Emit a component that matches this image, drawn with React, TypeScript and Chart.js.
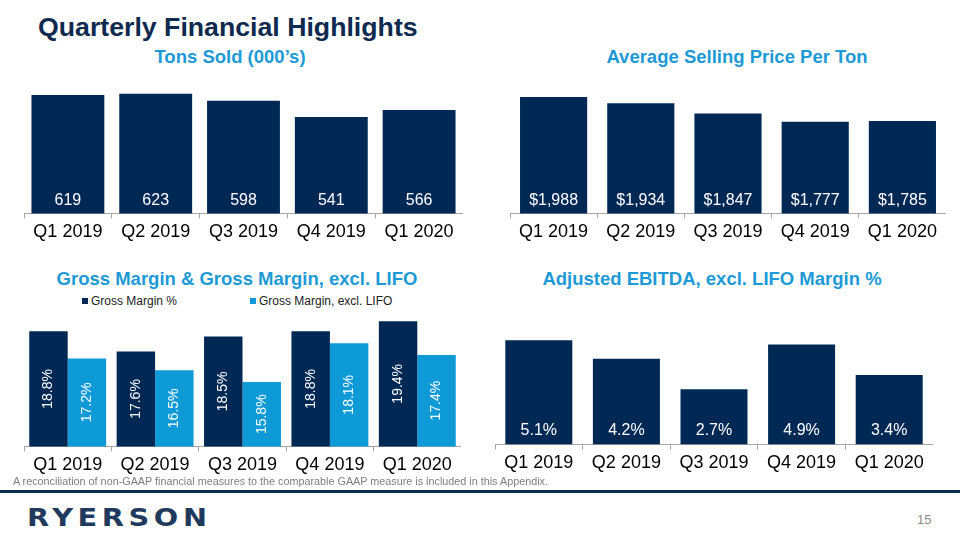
import React, { useEffect, useRef } from "react";
import { Chart, registerables } from "chart.js";

Chart.register(...registerables);

// ---------- DATA ----------
const quarters = ["Q1 2019", "Q2 2019", "Q3 2019", "Q4 2019", "Q1 2020"];
const tonsSold = [619, 623, 598, 541, 566];
const avgSellingPrice = [1988, 1934, 1847, 1777, 1785];
const grossMargin = [18.8, 17.6, 18.5, 18.8, 19.4];
const grossMarginExLifo = [17.2, 16.5, 15.8, 18.1, 17.4];
const ebitdaMargin = [5.1, 4.2, 2.7, 4.9, 3.4];
const grossSeriesNames = ["Gross Margin %", "Gross Margin, excl. LIFO"];

const NAVY = "#002855";
const LIGHT = "#0E9AD7";
const TITLE_BLUE = "#1D9AD6";
const FONT = "'Liberation Sans', Arial, sans-serif";

const valueLabelPlugin = {
  id: "valueLabels",
  afterDatasetsDraw(chart: any, _args: any, opts: any) {
    const ctx = chart.ctx;
    const bottom = chart.chartArea.bottom;
    chart.data.datasets.forEach((ds: any, di: number) => {
      const meta = chart.getDatasetMeta(di);
      meta.data.forEach((bar: any, i: number) => {
        const v = ds.data[i] as number;
        const num = v.toLocaleString("en-US", {
          minimumFractionDigits: opts.decimals,
          maximumFractionDigits: opts.decimals,
        });
        const text = (opts.prefix || "") + num + (opts.suffix || "");
        const { x, y, base } = bar.getProps(["x", "y", "base"], true);
        const b = Math.min(base, bottom);
        ctx.save();
        ctx.fillStyle = "#ffffff";
        ctx.font = `${opts.size}px ${FONT}`;
        ctx.textAlign = "center";
        ctx.textBaseline = "middle";
        if (opts.rotated) {
          ctx.translate(x, (y + b) / 2);
          ctx.rotate(-Math.PI / 2);
          ctx.fillText(text, 0, 0);
        } else {
          ctx.fillText(text, x, b - opts.offset);
        }
        ctx.restore();
      });
    });
  },
};

type BarProps = {
  left: number;
  top: number;
  width: number;
  height: number;
  datasets: { label: string; data: number[]; color: string }[];
  min: number;
  max: number;
  catPct: number;
  labels: { prefix?: string; suffix?: string; decimals: number; rotated?: boolean; offset?: number; size: number };
};

function BarChart(p: BarProps) {
  const ref = useRef<HTMLCanvasElement>(null);
  useEffect(() => {
    if (!ref.current) return;
    const chart = new Chart(ref.current, {
      type: "bar",
      data: {
        labels: quarters,
        datasets: p.datasets.map((d) => ({
          label: d.label,
          data: d.data,
          backgroundColor: d.color,
          borderWidth: 0,
          categoryPercentage: p.catPct,
          barPercentage: 1,
        })),
      },
      options: {
        responsive: false,
        animation: false,
        layout: { padding: 0 },
        plugins: {
          legend: { display: false },
          tooltip: { enabled: false },
          title: { display: false },
          valueLabels: p.labels,
        } as any,
        scales: {
          x: {
            offset: true,
            border: { display: true, color: "#A6A6A6", width: 1 },
            grid: {
              display: true,
              offset: true,
              drawOnChartArea: false,
              drawTicks: true,
              tickLength: 5,
              color: "#A6A6A6",
            },
            ticks: {
              color: "#000000",
              font: { family: FONT, size: 18 },
              padding: 3,
              maxRotation: 0,
              autoSkip: false,
            },
          },
          y: { display: false, min: p.min, max: p.max },
        },
      },
      plugins: [valueLabelPlugin],
    });
    return () => chart.destroy();
  }, []);
  return (
    <canvas
      ref={ref}
      width={p.width}
      height={p.height}
      style={{ position: "absolute", left: p.left, top: p.top, width: p.width, height: p.height }}
    />
  );
}

function Title({ text, cx, cy }: { text: string; cx: number; cy: number }) {
  return (
    <div
      style={{
        position: "absolute",
        left: cx - 250,
        width: 500,
        top: cy - 11,
        lineHeight: "22px",
        textAlign: "center",
        fontFamily: FONT,
        fontWeight: "bold",
        fontSize: 18.5,
        color: TITLE_BLUE,
        whiteSpace: "nowrap",
      }}
    >
      {text}
    </div>
  );
}

function LegendItem({ x, cy, color, text }: { x: number; cy: number; color: string; text: string }) {
  return (
    <>
      <div style={{ position: "absolute", left: x, top: cy - 3, width: 6, height: 6, background: color }} />
      <div
        style={{
          position: "absolute",
          left: x + 9,
          top: cy - 8,
          lineHeight: "16px",
          fontFamily: FONT,
          fontSize: 12,
          color: "#222",
          whiteSpace: "nowrap",
        }}
      >
        {text}
      </div>
    </>
  );
}

export default function App() {
  return (
    <div
      style={{
        position: "absolute",
        left: 0,
        top: 0,
        width: 960,
        height: 540,
        background: "#ffffff",
        overflow: "hidden",
        fontFamily: FONT,
      }}
    >
      <div
        style={{
          position: "absolute",
          left: 38,
          top: 12,
          lineHeight: "30px",
          fontSize: 26.7,
          fontWeight: "bold",
          color: "#0E2A4E",
          whiteSpace: "nowrap",
        }}
      >
        Quarterly Financial Highlights
      </div>

      <Title text="Tons Sold (000’s)" cx={230} cy={57} />
      <Title text="Average Selling Price Per Ton" cx={737} cy={57} />
      <Title text="Gross Margin & Gross Margin, excl. LIFO" cx={237} cy={279} />
      <Title text="Adjusted EBITDA, excl. LIFO Margin %" cx={712} cy={279} />

      <LegendItem x={82} cy={301} color={NAVY} text={grossSeriesNames[0]} />
      <LegendItem x={250} cy={301} color={LIGHT} text={grossSeriesNames[1]} />

      <BarChart
        left={24}
        top={72}
        width={439}
        height={174}
        datasets={[{ label: "Tons Sold", data: tonsSold, color: NAVY }]}
        min={200}
        max={700}
        catPct={0.83}
        labels={{ decimals: 0, offset: 13, size: 16 }}
      />
      <BarChart
        left={510}
        top={72}
        width={436}
        height={174}
        datasets={[{ label: "Average Selling Price", data: avgSellingPrice, color: NAVY }]}
        min={1000}
        max={2200}
        catPct={0.77}
        labels={{ prefix: "$", decimals: 0, offset: 13, size: 16 }}
      />
      <BarChart
        left={24}
        top={311}
        width={437}
        height={168}
        datasets={[
          { label: grossSeriesNames[0], data: grossMargin, color: NAVY },
          { label: grossSeriesNames[1], data: grossMarginExLifo, color: LIGHT },
        ]}
        min={12}
        max={20}
        catPct={0.88}
        labels={{ suffix: "%", decimals: 1, rotated: true, size: 14 }}
      />
      <BarChart
        left={495}
        top={322}
        width={438}
        height={155}
        datasets={[{ label: "Adjusted EBITDA Margin", data: ebitdaMargin, color: NAVY }]}
        min={0}
        max={6}
        catPct={0.765}
        labels={{ suffix: "%", decimals: 1, offset: 14, size: 16 }}
      />

      <div
        style={{
          position: "absolute",
          left: 13,
          top: 475,
          lineHeight: "12px",
          fontSize: 10.8,
          color: "#7F7F7F",
          whiteSpace: "nowrap",
        }}
      >
        A reconciliation of non-GAAP financial measures to the comparable GAAP measure is included in this Appendix.
      </div>

      <div style={{ position: "absolute", left: 0, top: 490, width: 960, height: 3, background: "#0E2D4B" }} />

      <div
        style={{
          position: "absolute",
          left: 27,
          top: 505,
          lineHeight: "25px",
          fontFamily: "'DejaVu Sans', sans-serif",
          fontWeight: "bold",
          fontSize: 25,
          letterSpacing: "4px",
          color: "#1F3A5C",
          whiteSpace: "nowrap",
          transform: "scaleX(1.15)",
          transformOrigin: "0 0",
        }}
      >
        RYERSON
      </div>

      <div
        style={{
          position: "absolute",
          left: 917,
          top: 512,
          lineHeight: "16px",
          fontSize: 13,
          color: "#8C8C8C",
        }}
      >
        15
      </div>
    </div>
  );
}
